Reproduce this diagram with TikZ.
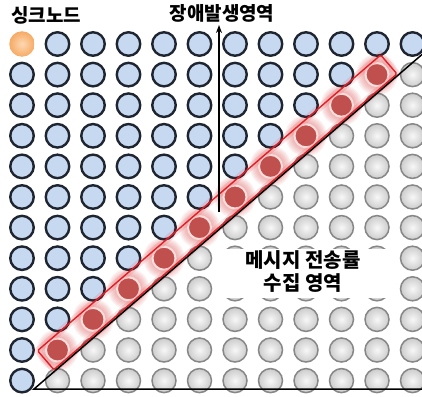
\documentclass[tikz,border=0pt]{standalone}
\usepackage{fontspec}
\newfontfamily\kr{Noto Sans CJK KR}
\usetikzlibrary{arrows.meta}
\definecolor{bluefill}{RGB}{198,217,241}
\definecolor{blueline}{RGB}{30,36,48}
\definecolor{grayline}{RGB}{135,135,135}
\definecolor{redfill}{RGB}{192,80,77}
\definecolor{redring}{RGB}{250,222,220}
\definecolor{glowred}{RGB}{225,90,90}
\definecolor{bandred}{RGB}{228,30,38}
\definecolor{sinkin}{RGB}{253,216,180}
\definecolor{sinkout}{RGB}{246,170,100}
\tikzset{
  bluenode/.style={circle, minimum size=23.5pt, inner sep=0pt, draw=blueline, line width=2.4pt, fill=bluefill},
  graynode/.style={circle, minimum size=24pt, inner sep=0pt, draw=grayline, line width=1.5pt, inner color=gray!6, outer color=gray!40},
  sinknode/.style={circle, minimum size=25.5pt, inner sep=0pt, inner color=sinkin, outer color=sinkout},
  rednode/.style={circle, minimum size=23pt, inner sep=0pt, draw=redring, line width=2pt, fill=redfill},
  lbl/.style={font=\kr\bfseries\fontsize{19}{23}\selectfont, inner sep=0pt},
  lblb/.style={font=\kr\bfseries\fontsize{20}{23}\selectfont, inner sep=0pt},
  blackline/.style={line width=1.5pt, black},
}
\begin{document}
\begin{tikzpicture}[x=1pt,y=-1pt]
\useasboundingbox (0,0) rectangle (422,396);
\fill[white] (0,0) rectangle (422,396);
% glows of the red nodes
\foreach \c in {1,...,10}{
  \pgfmathsetmacro{\px}{22+35.5*\c}
  \pgfmathsetmacro{\py}{44+30.6*(11-\c)}
  \foreach \k in {1,...,7}{
    \fill[glowred, opacity=0.085] (\px,\py) circle ({11+\k*1.4});
  }
}
% grid
\foreach \c in {0,...,11}{
  \foreach \r in {0,...,11}{
    \pgfmathsetmacro{\px}{22+35.5*\c}
    \pgfmathsetmacro{\py}{44+30.6*\r}
    \pgfmathtruncatemacro{\s}{\c+\r}
    \ifnum\c=0 \ifnum\r=0
      \node[sinknode] (n-\c-\r) at (\px,\py) {};
    \else
      \node[bluenode] (n-\c-\r) at (\px,\py) {};
    \fi\else
    \ifnum\s<11
      \node[bluenode] (n-\c-\r) at (\px,\py) {};
    \else\ifnum\s=11
      \ifnum\c=11
        \node[bluenode] (n-\c-\r) at (\px,\py) {};
      \else
        \node[rednode] (n-\c-\r) at (\px,\py) {};
      \fi
    \else
      \node[graynode] (n-\c-\r) at (\px,\py) {};
    \fi\fi\fi
  }
}
% band around the red nodes
\node[draw=bandred, line width=7pt, draw opacity=0.12, minimum width=453pt, minimum height=25pt, rotate=40.76, inner sep=0pt] (bandglow) at (217.25,212.3) {};
\node[draw=bandred, line width=1.4pt, rounded corners=1.5pt, minimum width=453pt, minimum height=25pt, rotate=40.76, inner sep=0pt] (band) at (217.25,212.3) {};
% black triangle
\coordinate (tri-a) at (34,389);
\coordinate (tri-b) at (422,54.5);
\coordinate (tri-c) at (422,389);
\draw[blackline] (tri-b) -- (tri-a) -- (tri-c);
% arrow
\coordinate (arr-s) at (219,212);
\coordinate (arr-e) at (219,25);
\draw[line width=1.3pt, -{Stealth[length=8pt,width=6pt]}] (arr-s) -- (arr-e);
% white box with label
\node[fill=white, minimum width=184pt, minimum height=49pt, inner sep=0pt] (box) at (306.5,273.5) {};
\node[lblb, align=center] (rate) at (303,272) {메시지 전송률\\수집 영역};
% top labels
\node[lbl] (sink) at (46,15) {싱크노드};
\node[lbl] (title) at (222,13) {장애발생영역};
\end{tikzpicture}
\end{document}
